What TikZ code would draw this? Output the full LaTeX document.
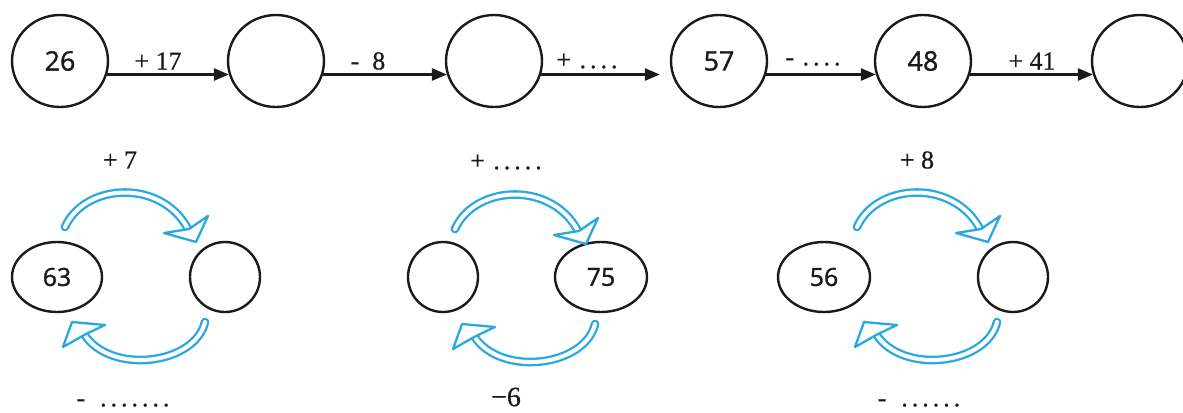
\documentclass[tikz,border=0pt]{standalone}
\usepackage{fontspec}
\setmainfont{Liberation Serif}[BoldFont={Liberation Serif},BoldFeatures={FakeBold=0.6}]
\newfontfamily\numfont{Open Sans}[BoldFont={Open Sans},BoldFeatures={FakeBold=1.2}]
\usetikzlibrary{shapes.geometric,arrows.meta}
\definecolor{cyc}{HTML}{2AA8E0}
\definecolor{ink}{HTML}{1A1A1A}
\newcommand{\spdots}[1]{\foreach \i in {1,...,#1}{\kern2bp.\kern2bp}}
\tikzset{
  cyclearr/.pic={
    \draw[band] (65,227) .. controls (85,182) and (165,178) .. (190,233);
    \draw[head] (196,242) -- (164,233) -- (189,229) -- (208,216) -- cycle;
    \draw[band] (205,322) .. controls (195,365) and (110,375) .. (84,334);
    \draw[head] (63,347) -- (72,322) -- (105,325) -- (86,334) -- cycle;
  }
}
\begin{document}
\begin{tikzpicture}[x=1bp,y=-1bp,
  bub/.style={ellipse, draw=ink, line width=2.4bp, inner sep=0pt, text=ink,
    font=\numfont\bfseries\fontsize{27}{30}\selectfont},
  topbub/.style={bub, minimum width=96bp, minimum height=92bp},
  botbub/.style={bub, minimum height=70bp, font=\numfont\bfseries\fontsize{25}{28}\selectfont},
  lab/.style={font=\bfseries\fontsize{26}{28}\selectfont, text=ink, inner sep=0pt},
  flow/.style={line width=2.6bp, draw=ink, -{Triangle[length=15bp,width=12bp]}},
  band/.style={draw=cyc, line width=2.3bp, double=white, double distance=4bp, line cap=round},
  head/.style={draw=cyc, fill=white, line width=2.3bp, line join=round}]
\useasboundingbox[fill=white] (0,0) rectangle (1183,412);
% top row
\node[topbub] (c1) at (60,61) {26};
\node[topbub] (c2) at (276,61) {};
\node[topbub] (c3) at (494,61) {};
\node[topbub] (c4) at (719,61) {57};
\node[topbub] (c5) at (923,61) {48};
\node[topbub] (c6) at (1140,61) {};
\draw[flow] (c1.-16) -- (c2.196);
\draw[flow] (c2.-16) -- (c3.196);
\draw[flow, shorten >=12bp] (c3.-16) -- (c4.196);
\draw[flow] (c4.-16) -- (c5.196);
\draw[flow] (c5.-16) -- (c6.196);
\node[lab] (l1) at (158,61) {+ 17};
\node[lab] (l2) at (368,61) {-\ \ 8};
\node[lab] (l3) at (588,61) {+ \spdots{4}};
\node[lab] (l4) at (814,62) {- \spdots{4}};
\node[lab] (l5) at (1032,61) {+ 41};
% bottom row
\node[botbub, minimum width=90bp] (e1) at (57,277) {63};
\node[botbub, minimum width=70bp] (k1) at (225,277) {};
\node[botbub, minimum width=70bp] (k2) at (443,277) {};
\node[botbub, minimum width=92bp] (e2) at (601,277) {75};
\node[botbub, minimum width=92bp] (e3) at (824,277) {56};
\node[botbub, minimum width=70bp] (k3) at (1013,277) {};
\pic at (0,0) {cyclearr};
\pic at (390,2) {cyclearr};
\pic at (792,0) {cyclearr};
\node[lab] (t1) at (120,160) {+ 7};
\node[lab] (t2) at (507,162) {+ \spdots{5}};
\node[lab] (t3) at (917,160) {+ 8};
\node[lab] (b1) at (124,403) {-\ \ \spdots{7}};
\node[lab, font=\bfseries\fontsize{28}{30}\selectfont] (b2) at (506,397) {\textminus6};
\node[lab] (b3) at (920,403) {-\ \ \spdots{6}};
\end{tikzpicture}
\end{document}
